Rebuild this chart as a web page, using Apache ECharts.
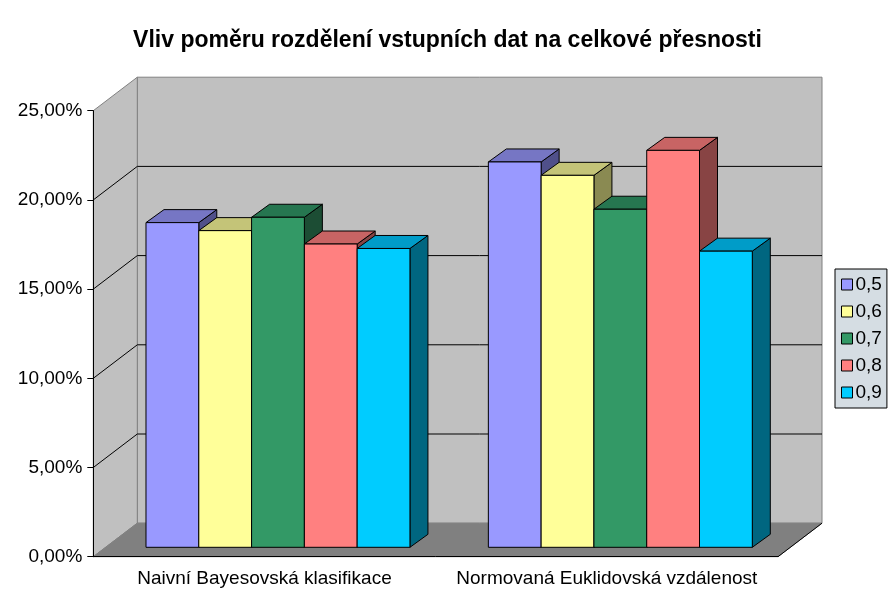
<!DOCTYPE html>
<html>
<head>
<meta charset="utf-8">
<script src="https://cdn.jsdelivr.net/npm/echarts@6/dist/echarts.min.js"></script>
<style>
html,body{margin:0;padding:0;background:#fff;}
#chart{width:895px;height:610px;}
</style>
</head>
<body>
<div id="chart"></div>
<script>
// ---- data ----
const titleText = 'Vliv poměru rozdělení vstupních dat na celkové přesnosti';
const categories = ['Naivní Bayesovská klasifikace', 'Normovaná Euklidovská vzdálenost'];
const seriesNames = ['0,5', '0,6', '0,7', '0,8', '0,9'];
const s05 = [18.2, 21.6];
const s06 = [17.75, 20.85];
const s07 = [18.5, 18.95];
const s08 = [17.0, 22.25];
const s09 = [16.75, 16.6];
const yTicks = [0, 5, 10, 15, 20, 25];

// ---- styles ----
const seriesData = [s05, s06, s07, s08, s09];
const faceColors = [
  {front: '#9999FF', top: '#7676C4', side: '#50508A'},
  {front: '#FFFF99', top: '#C4C478', side: '#8A8A52'},
  {front: '#339966', top: '#267650', side: '#1C4D34'},
  {front: '#FF8080', top: '#C86464', side: '#884444'},
  {front: '#00CCFF', top: '#009CC8', side: '#006680'}
];
const WALL_DX = 44, WALL_DY = -33.5;       // depth of the chart box
const BAR_OFF_DX = 12.3, BAR_OFF_DY = -9.4; // offset of bar front from box front
const BAR_DX = 18, BAR_DY = -13;           // bar depth
const GROUP_FRAC = 0.771;
const GROUP_SHIFT = 1.2;
const FONT = 'Liberation Sans, Arial, sans-serif';

const chart = echarts.init(document.getElementById('chart'), null, {renderer: 'canvas'});

function wallRender(params, api) {
  const cs = params.coordSys;
  const x0 = cs.x, x1 = cs.x + cs.width;
  const yb = api.coord([0, 0])[1];
  const yt = api.coord([0, yTicks[yTicks.length - 1]])[1];
  const children = [];
  children.push({type: 'rect', shape: {x: x0 + WALL_DX, y: yt + WALL_DY, width: cs.width, height: yb - yt},
    style: {fill: '#C0C0C0', stroke: '#808080', lineWidth: 1}});
  children.push({type: 'polygon', shape: {points: [[x0, yb], [x0, yt], [x0 + WALL_DX, yt + WALL_DY], [x0 + WALL_DX, yb + WALL_DY]]},
    style: {fill: '#C0C0C0', stroke: '#808080', lineWidth: 1}});
  children.push({type: 'polygon', shape: {points: [[x0, yb], [x1, yb], [x1 + WALL_DX, yb + WALL_DY], [x0 + WALL_DX, yb + WALL_DY]]},
    style: {fill: '#808080', stroke: '#808080', lineWidth: 1}});
  children.push({type: 'line', shape: {x1: x1, y1: yb, x2: x1 + WALL_DX, y2: yb + WALL_DY}, style: {stroke: '#000', lineWidth: 1}});
  yTicks.forEach(function (v) {
    if (v === 0 || v === yTicks[yTicks.length - 1]) return;
    const y = api.coord([0, v])[1];
    children.push({type: 'line', shape: {x1: x0, y1: y, x2: x0 + WALL_DX, y2: y + WALL_DY}, style: {stroke: '#000', lineWidth: 1}});
    children.push({type: 'line', shape: {x1: x0 + WALL_DX, y1: y + WALL_DY, x2: x1 + WALL_DX, y2: y + WALL_DY}, style: {stroke: '#000', lineWidth: 1}});
  });
  return {type: 'group', children: children};
}

function makeBarRender(k) {
  return function (params, api) {
    const ci = api.value(0), v = api.value(1);
    const base = api.coord([ci, 0]);
    const topP = api.coord([ci, v]);
    const catW = api.size([1, 0])[0];
    const groupW = catW * GROUP_FRAC;
    const bw = groupW / seriesNames.length;
    const x0 = base[0] - groupW / 2 + k * bw + BAR_OFF_DX + GROUP_SHIFT;
    const yB = base[1] + BAR_OFF_DY;
    const yT = topP[1] + BAR_OFF_DY;
    const c = faceColors[k];
    const st = {stroke: '#000', lineWidth: 1};
    return {type: 'group', children: [
      {type: 'polygon', shape: {points: [[x0 + bw, yT], [x0 + bw + BAR_DX, yT + BAR_DY], [x0 + bw + BAR_DX, yB + BAR_DY], [x0 + bw, yB]]},
        style: Object.assign({fill: c.side}, st)},
      {type: 'polygon', shape: {points: [[x0, yT], [x0 + bw, yT], [x0 + bw + BAR_DX, yT + BAR_DY], [x0 + BAR_DX, yT + BAR_DY]]},
        style: Object.assign({fill: c.top}, st)},
      {type: 'rect', shape: {x: x0, y: yT, width: bw, height: yB - yT},
        style: Object.assign({fill: c.front}, st)}
    ]};
  };
}

const series = [{
  type: 'custom', name: '__walls', silent: true, z: 1,
  renderItem: wallRender, data: [[0, 0]]
}];
seriesNames.forEach(function (n, k) {
  series.push({
    type: 'custom', name: n, z: 2 + k,
    itemStyle: {color: faceColors[k].front},
    renderItem: makeBarRender(k),
    data: seriesData[k].map(function (v, i) { return [i, v]; })
  });
});

chart.setOption({
  animation: false,
  backgroundColor: '#fff',
  textStyle: {fontFamily: FONT},
  title: {
    text: titleText, left: 'center', top: 24,
    textStyle: {fontFamily: FONT, fontSize: 23, fontWeight: 'bold', color: '#000'}
  },
  legend: {
    data: seriesNames, orient: 'vertical', left: 835, top: 269,
    backgroundColor: '#D5DDE3', borderColor: '#000', borderWidth: 1,
    padding: [6, 5, 6, 6], itemGap: 8, itemWidth: 11, itemHeight: 11, icon: 'rect',
    itemStyle: {borderColor: '#000', borderWidth: 1},
    textStyle: {fontFamily: FONT, fontSize: 19, color: '#000', padding: [0, 0, 0, -2]}
  },
  grid: {left: 93.3, right: 117, top: 110.7, bottom: 53.3},
  xAxis: {
    type: 'category', data: categories, z: 10,
    axisLine: {lineStyle: {color: '#000', width: 1}},
    axisTick: {length: 7, lineStyle: {color: '#000'}},
    axisLabel: {fontFamily: FONT, fontSize: 19, color: '#000', margin: 13, interval: 0}
  },
  yAxis: {
    type: 'value', min: 0, max: 25, interval: 5, z: 10,
    axisLine: {show: true, lineStyle: {color: '#000', width: 1}},
    axisTick: {show: true, length: 6, lineStyle: {color: '#000'}},
    splitLine: {show: false},
    axisLabel: {fontFamily: FONT, fontSize: 19, color: '#000', margin: 11,
      formatter: function (v) { return v.toFixed(2).replace('.', ',') + '%'; }}
  },
  series: series
});
</script>
</body>
</html>
